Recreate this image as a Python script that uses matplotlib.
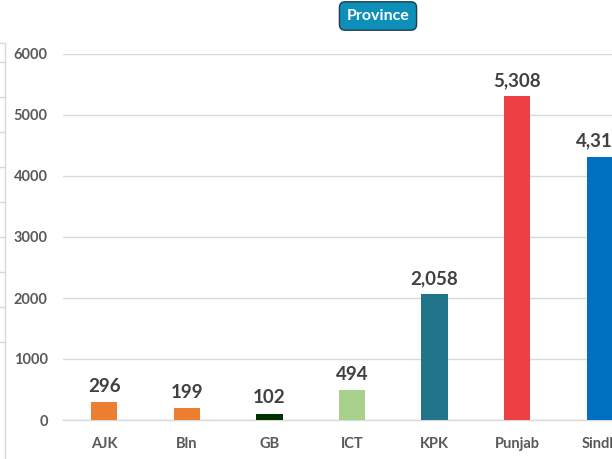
import matplotlib
matplotlib.use("Agg")
import matplotlib.pyplot as plt
from matplotlib.lines import Line2D

categories = ["AJK", "Bln", "GB", "ICT", "KPK", "Punjab", "Sindh"]
values = [296, 199, 102, 494, 2058, 5308, 4311]
colors = ["#ED7D31", "#ED7D31", "#003300", "#A9D18E", "#21758B", "#EE4044", "#0070C0"]
yticks = [0, 1000, 2000, 3000, 4000, 5000, 6000]
title = "Province"

plt.rcParams['font.family'] = ['Lato', 'DejaVu Sans']

fig = plt.figure(figsize=(6.12, 4.59), dpi=100)
W, H = 612, 459
left, right = 63, 641
bottom, top = 420, 54
ax = fig.add_axes([left / W, 1 - bottom / H, (right - left) / W, (bottom - top) / H])

x = list(range(len(categories)))
ax.bar(x, values, width=0.32, color=colors, zorder=3)
for xi, v in zip(x, values):
    ax.text(xi, v + 120, f"{v:,}", ha="center", va="bottom", fontsize=13.5,
            fontweight="bold", color="#404040", zorder=4)

ax.set_xlim(-0.5, len(categories) - 0.5)
ax.set_ylim(0, 6000)
ax.set_yticks(yticks)
ax.set_yticklabels([str(t) for t in yticks])
ax.set_xticks(x)
ax.set_xticklabels(categories)
ax.tick_params(axis="y", length=0, pad=11, labelsize=10.5, labelcolor="#595959")
ax.tick_params(axis="x", length=0, pad=12, labelsize=10.5, labelcolor="#595959")
for lab in ax.get_xticklabels() + ax.get_yticklabels():
    lab.set_fontweight("bold")
ax.grid(axis="y", color="#D9D9D9", linewidth=1, zorder=0)
for s in ["top", "right", "left"]:
    ax.spines[s].set_visible(False)
ax.spines["bottom"].set_color("#D9D9D9")
ax.spines["bottom"].set_linewidth(1)

fig.text(378 / W, 1 - 16 / H, title, ha="center", va="center", fontsize=11.5,
         fontweight="bold", color="white",
         bbox=dict(boxstyle="round,pad=0.45,rounding_size=0.35", facecolor="#0E8FBA",
                   edgecolor="#1F3B4D", linewidth=1))

# neighbouring panel border on the left edge
fig.add_artist(Line2D([5 / W, 5 / W], [0, 1 - 43 / H], transform=fig.transFigure,
                      color="#D9D9D9", linewidth=1))
fig.add_artist(Line2D([0, 5 / W], [1 - 43 / H, 1 - 43 / H], transform=fig.transFigure,
                      color="#D9D9D9", linewidth=1))
for yy in [62, 97, 132, 167, 202, 237, 272, 307, 342]:
    fig.add_artist(Line2D([0, 4 / W], [1 - yy / H, 1 - yy / H], transform=fig.transFigure,
                          color="#D9D9D9", linewidth=1))

fig.savefig("out.png", dpi=100)
